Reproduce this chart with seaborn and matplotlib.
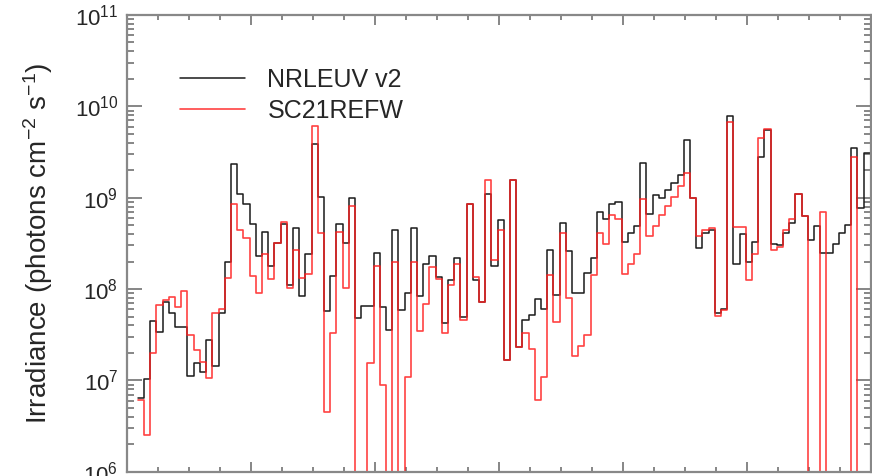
import numpy as np
import pandas as pd
import matplotlib
matplotlib.use("Agg")
import matplotlib.pyplot as plt
import seaborn as sns
from matplotlib.ticker import LogLocator, MultipleLocator, NullFormatter

# 1-nm bins, left edge of each bin in nm
bin_start = np.arange(1.8, 119.8, 1.0)

# Solar EUV irradiance per bin (photons cm^-2 s^-1); 1e5 marks bins below the plotted floor
nrleuv_v2 = [
    6.4e6, 1.03e7, 4.5e7, 3.4e7, 7.3e7, 5.4e7, 3.8e7, 3.8e7, 1.12e7, 1.54e7,
    1.25e7, 2.8e7, 1.45e7, 5.4e7, 2.0e8, 2.34e9, 1.09e9, 8.5e8, 5.2e8, 2.3e8,
    4.2e8, 1.8e8, 3.2e8, 5.2e8, 1.1e8, 4.7e8, 8.3e7, 2.4e8, 3.9e9, 1.03e9,
    5.8e7, 1.4e8, 5.2e8, 3.2e8, 1.0e9, 4.8e7, 6.5e7, 6.5e7, 2.5e8, 6.3e7,
    3.6e7, 4.4e8, 5.9e7, 9.0e7, 4.7e8, 8.4e7, 1.9e8, 2.3e8, 1.34e8, 4.2e7,
    1.26e8, 2.2e8, 5.0e7, 8.5e8, 1.26e8, 7.3e7, 1.09e9, 1.8e8, 5.7e8, 1.67e7,
    1.56e9, 2.3e7, 4.6e7, 5.2e7, 7.8e7, 6.1e7, 2.7e8, 8.6e7, 5.3e8, 2.6e8,
    9.0e7, 9.0e7, 1.5e8, 2.2e8, 6.9e8, 5.9e8, 8.5e8, 9.0e8, 3.3e8, 4.1e8,
    4.9e8, 2.4e9, 6.7e8, 1.07e9, 9.8e8, 1.21e9, 1.44e9, 1.77e9, 4.3e9, 9.8e8,
    2.8e8, 4.1e8, 4.4e8, 5.4e7, 6.1e7, 7.8e9, 1.9e8, 4.0e8, 1.96e8, 3.3e8,
    2.8e9, 5.5e9, 3.1e8, 3.0e8, 4.1e8, 5.3e8, 1.09e9, 6.3e8, 3.4e8, 4.9e8,
    2.5e8, 2.5e8, 3.1e8, 4.1e8, 5.0e8, 3.5e9, 7.8e8, 3.1e9,
]
sc21refw = [
    6.1e6, 2.5e6, 2.0e7, 6.7e7, 7.6e7, 8.1e7, 6.3e7, 9.4e7, 3.1e7, 2.15e7,
    1.6e7, 1.05e7, 5.4e7, 6.0e7, 1.31e8, 8.5e8, 4.4e8, 3.6e8, 1.39e8, 9.1e7,
    2.4e8, 1.29e8, 3.2e8, 5.4e8, 1.02e8, 2.7e8, 1.31e8, 1.46e8, 6.1e9, 4.1e8,
    4.5e6, 3.3e7, 4.2e8, 1.02e8, 8.1e8, 1e5, 1e5, 1.54e7, 1.8e8, 8.9e6,
    1e5, 2.0e8, 1e5, 1.1e7, 2.0e8, 3.5e7, 6.9e7, 1.73e8, 1.29e8, 3.3e7,
    1.1e8, 1.9e8, 4.6e7, 8.5e8, 1.34e8, 7.3e7, 1.56e9, 2.1e8, 4.4e8, 1.67e7,
    1.56e9, 2.3e7, 3.3e7, 2.2e7, 6.1e6, 1.08e7, 1.43e8, 4.4e7, 4.1e8, 8.0e7,
    1.85e7, 2.4e7, 3.1e7, 1.43e8, 4.1e8, 3.1e8, 6.5e8, 5.8e8, 1.46e8, 1.86e8,
    2.4e8, 9.6e8, 3.8e8, 4.9e8, 6.5e8, 8.1e8, 1.03e9, 1.34e9, 1.88e9, 9.8e8,
    3.8e8, 4.4e8, 4.6e8, 5.1e7, 5.9e7, 6.8e9, 4.8e8, 4.8e8, 1.26e8, 2.4e8,
    4.5e9, 5.7e9, 2.7e8, 2.9e8, 4.4e8, 5.8e8, 1.09e9, 6.3e8, 1e5, 1e5,
    6.9e8, 1e5, 1e5, 1e5, 1e5, 2.8e9, 1e5, 1e5,
]
labels = ["NRLEUV v2", "SC21REFW"]
colors = {"NRLEUV v2": "#1a1a1a", "SC21REFW": "#ff2020"}


def steps_frame(name, values):
    # close the last bin by repeating its value at the right edge
    x = np.append(bin_start, bin_start[-1] + 1.0)
    y = np.append(values, values[-1])
    return pd.DataFrame({"wavelength": x, "irradiance": y, "model": name})


df = pd.concat([steps_frame(labels[0], nrleuv_v2),
                steps_frame(labels[1], sc21refw)], ignore_index=True)

sns.set_theme(style="white")
plt.rcParams["font.family"] = ["Liberation Sans", "DejaVu Sans"]
plt.rcParams["mathtext.fontset"] = "custom"
plt.rcParams["mathtext.rm"] = "Liberation Sans"
plt.rcParams["mathtext.it"] = "Liberation Sans:italic"
plt.rcParams["mathtext.bf"] = "Liberation Sans:bold"

fig = plt.figure(figsize=(8.72, 4.76), dpi=100)
ax = fig.add_axes([0.1453, 0.009, 0.8536, 0.9595])
ax.set_facecolor("white")

sns.lineplot(data=df[df.model == labels[0]], x="wavelength", y="irradiance",
             color=colors[labels[0]], lw=1.1, drawstyle="steps-post",
             estimator=None, label=labels[0], ax=ax)
sns.lineplot(data=df[df.model == labels[1]], x="wavelength", y="irradiance",
             color=colors[labels[1]], lw=1.2, alpha=0.85, drawstyle="steps-post",
             estimator=None, label=labels[1], ax=ax)

ax.set_yscale("log")
ax.set_xlim(0, 120)
ax.set_ylim(1e6, 1e11)

ax.xaxis.set_major_locator(MultipleLocator(20))
ax.xaxis.set_minor_locator(MultipleLocator(5))
ax.yaxis.set_major_locator(LogLocator(base=10, numticks=10))
ax.yaxis.set_minor_locator(LogLocator(base=10, subs=np.arange(2, 10), numticks=20))
ax.yaxis.set_minor_formatter(NullFormatter())
ax.xaxis.set_ticks_position("both")
ax.yaxis.set_ticks_position("both")

ax.tick_params(axis="both", which="both", direction="in",
               left=True, right=True, top=True, bottom=True,
               color="#666666", width=1.1)
ax.tick_params(axis="y", which="major", length=10.5, labelsize=16, pad=6,
               labelleft=True, labelright=False)
ax.tick_params(axis="y", which="minor", length=5)
ax.tick_params(axis="x", which="major", length=7, labelbottom=False, labeltop=False)
ax.tick_params(axis="x", which="minor", length=3.5)

for side in ax.spines.values():
    side.set_color("#888888")
    side.set_linewidth(1.6)

ax.set_xlabel("")
ax.set_ylabel("Irradiance (photons cm$^{-2}$ s$^{-1}$)", fontsize=20)
ax.yaxis.set_label_position("left")
ax.yaxis.set_label_coords(-0.097, 0.5)

ax.legend(loc="upper left", bbox_to_anchor=(0.0716, 0.885), frameon=False,
          fontsize=18, handlelength=2.6, handletextpad=0.9,
          labelspacing=0.3, borderpad=0, borderaxespad=0)

fig.savefig("out.png", dpi=100, facecolor="white")
